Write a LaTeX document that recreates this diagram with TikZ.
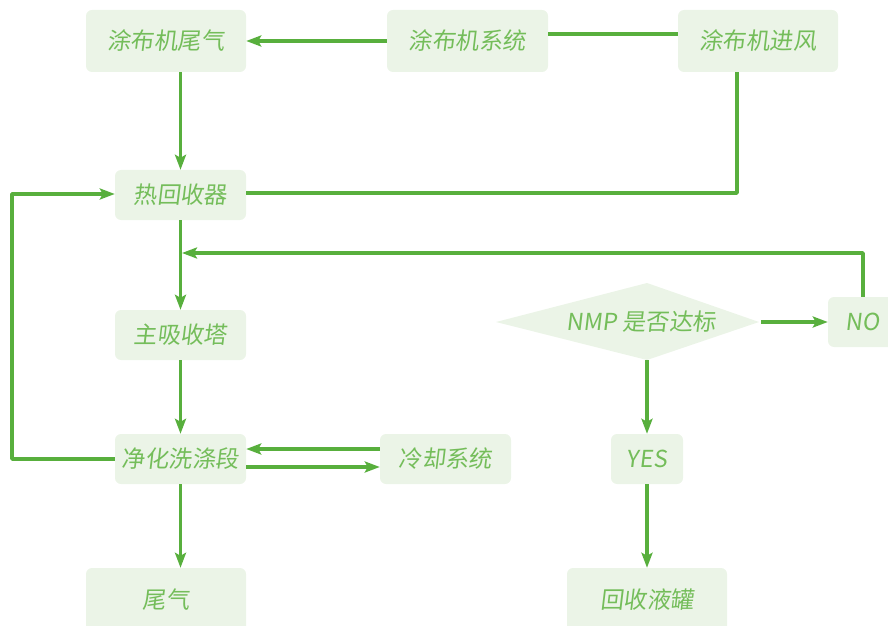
\documentclass[tikz,border=0pt]{standalone}
\usepackage{fontspec}
\setmainfont{Noto Sans CJK SC}[FakeSlant=0.12]
\usetikzlibrary{arrows.meta}
\definecolor{flowgreen}{HTML}{58AF3D}
\definecolor{textgreen}{HTML}{74BD5A}
\definecolor{boxfill}{HTML}{EBF4E7}
\begin{document}
\begin{tikzpicture}[x=1bp,y=-1bp,>={Stealth[length=15bp,width=11bp,inset=3bp]},line join=bevel,
  box/.style={fill=boxfill,draw=none,rounded corners=6bp,text=textgreen,inner sep=0pt,
    font=\fontsize{23.5}{27}\selectfont},
  flow/.style={flowgreen,line width=3.2bp}]
\useasboundingbox (0,0) rectangle (888,626);
%%
\node (node_tail) at (166,41) [box,minimum width=160bp,minimum height=62bp] {涂布机尾气};
  \node (node_system) at (467.5,41) [box,minimum width=161bp,minimum height=62bp] {涂布机系统};
  \node (node_inlet) at (758,41) [box,minimum width=160bp,minimum height=62bp] {涂布机进风};
  \node (node_heat) at (180.5,195) [box,minimum width=131bp,minimum height=50bp] {热回收器};
  \node (node_absorb) at (180.5,335) [box,minimum width=131bp,minimum height=50bp] {主吸收塔};
  \node (node_wash) at (180.5,459) [box,minimum width=131bp,minimum height=50bp] {净化洗涤段};
  \node (node_cool) at (445.5,459) [box,minimum width=131bp,minimum height=50bp] {冷却系统};
  \node (node_exhaust) at (166,600) [box,minimum width=160bp,minimum height=64bp] {尾气};
  \node (node_yes) at (647,459) [box,minimum width=72bp,minimum height=50bp] {YES};
  \node (node_no) at (863,322) [box,minimum width=70bp,minimum height=50bp] {NO};
  \node (node_tank) at (647,600) [box,minimum width=160bp,minimum height=64bp] {回收液罐};
%
\coordinate (dia_left) at (496,322);
  \coordinate (dia_top) at (647,283);
  \coordinate (dia_right) at (759,322);
  \coordinate (dia_bottom) at (647,360);
  \fill [boxfill] (dia_left) -- (dia_top) -- (dia_right) -- (dia_bottom) -- cycle;
  \node (node_nmp) at (641,322) [box,fill=none] {NMP 是否达标};
  \coordinate (dia_out) at (761,322);
  \coordinate (loop_left) at (12,0);
  \coordinate (join_no) at (182,253);
%
\draw [flow,->] (node_system) -- (node_tail);
  \draw [flow] ([yshift=7bp]node_system.east) -- ([yshift=7bp]node_system.east -| node_inlet.west);
  \draw [flow] ([xshift=-21bp]node_inlet.south) |- ([yshift=2bp]node_heat.east);
  \draw [flow,->] (node_tail.south -| node_heat) -- (node_heat);
  \draw [flow,->] (node_heat) -- (node_absorb);
  \draw [flow,->] (node_absorb) -- (node_wash);
  \draw [flow,->] (node_wash.west) -- (node_wash.west -| loop_left) |- ([yshift=1bp]node_heat.west);
  \draw [flow,->] ([yshift=10bp]node_cool.west) -- ([yshift=10bp]node_wash.east);
  \draw [flow,->] ([yshift=-8bp]node_wash.east) -- ([yshift=-8bp]node_cool.west);
  \draw [flow,->] (node_wash) -- (node_exhaust.north -| node_wash);
  \draw [flow,->] (dia_out) -- (node_no);
  \draw [flow,->] (dia_bottom) -- (node_yes);
  \draw [flow,->] (node_no) |- (join_no);
  \draw [flow,->] (node_yes) -- (node_tank);
%
\end{tikzpicture}
\end{document}
